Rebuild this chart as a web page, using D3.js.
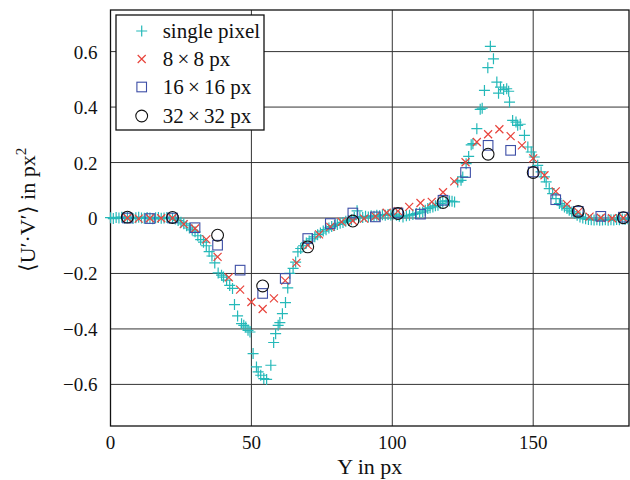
<!DOCTYPE html>
<html lang="en">
<head>
    <meta charset="UTF-8">
    <title>U'V' profile</title>
    <script src="https://cdn.jsdelivr.net/npm/d3@7/dist/d3.min.js"></script>
    <style>
        body {
            margin: 0;
            background-color: #ffffff;
        }
        svg text {
            font-family: "Liberation Serif", "Times New Roman", serif;
            fill: #111111;
        }
        .grid line {
            stroke: #333333;
            stroke-width: 1px;
        }
    </style>
</head>
<body>
<div id="chart"></div>
<script>
    var WIDTH = 630;
    var HEIGHT = 480;
    var PLOT = {left: 110.5, right: 629, top: 10, bottom: 426};
    var SERIF = "Liberation Serif";

    var X_DOMAIN = [0, 184];
    var Y_DOMAIN = [-0.75, 0.75];
    var X_TICKS = [0, 50, 100, 150];
    var Y_TICKS = [-0.6, -0.4, -0.2, 0, 0.2, 0.4, 0.6];

    var SERIES_LABELS = ["single pixel", "8\u2009\u00d7\u20098 px", "16\u2009\u00d7\u200916 px", "32\u2009\u00d7\u200932 px"];

    // single pixel: [Y, <U'V'>]
    var pixelPoints = [
        [0, 0.001], [1, -0.002], [2, 0.002], [3, 0.000], [4, 0.003], [5, -0.001],
        [6, 0.002], [7, 0.000], [8, -0.002], [9, 0.001], [10, 0.003], [11, 0.000],
        [12, -0.001], [13, 0.002], [14, 0.000], [15, -0.003], [16, 0.001], [17, 0.002],
        [18, -0.001], [19, 0.000], [20, 0.002], [21, -0.002], [22, -0.001], [23, -0.004],
        [24, -0.009], [25, -0.015], [26, -0.021], [27, -0.028], [28, -0.036], [29, -0.043],
        [30, -0.050], [31, -0.064], [32, -0.078], [33, -0.087], [34, -0.100], [35, -0.121],
        [36, -0.137], [37, -0.162], [38.2, -0.198], [39.4, -0.206], [40.1, -0.213], [41.2, -0.224],
        [42.3, -0.243], [43.3, -0.254], [44.0, -0.312], [45.1, -0.353], [46.5, -0.381], [47.3, -0.387],
        [48.0, -0.393], [48.8, -0.405], [49.5, -0.411], [50.6, -0.489], [51.8, -0.537], [52.4, -0.555],
        [53.3, -0.567], [54.4, -0.579], [55.4, -0.582], [56.9, -0.531], [57.9, -0.449], [58.6, -0.417],
        [59.5, -0.387], [60.1, -0.377], [61.0, -0.345], [62.1, -0.305], [62.9, -0.252], [63.6, -0.200],
        [64.8, -0.182], [65.7, -0.159], [66.5, -0.122], [67.5, -0.110], [68.5, -0.100], [69.5, -0.090],
        [70.5, -0.083], [71.5, -0.075], [72.5, -0.068], [73.5, -0.060], [74.5, -0.054], [75.5, -0.047],
        [76.5, -0.042], [77.5, -0.036], [78.5, -0.031], [79.5, -0.027], [80.5, -0.023], [81.5, -0.019],
        [82.5, -0.016], [83.5, -0.012], [84.5, -0.009], [85.5, -0.006], [86.5, 0.003], [87.5, 0.026],
        [88.5, 0.004], [89.5, 0.002], [90.5, 0.006], [91.5, 0.004], [92.5, 0.008], [93.5, 0.006],
        [94.5, 0.010], [95.5, 0.008], [96.5, 0.012], [97.5, 0.010], [98.5, 0.013], [99.5, 0.011],
        [100.5, 0.014], [101.5, 0.010], [102.5, 0.006], [103.8, 0.004], [105.0, 0.008], [106.1, 0.010],
        [107.3, 0.013], [108.5, 0.016], [109.7, 0.019], [110.8, 0.022], [111.7, 0.028], [112.6, 0.034],
        [113.4, 0.037], [114.4, 0.040], [115.3, 0.044], [116.2, 0.046], [117.0, 0.052], [117.9, 0.058],
        [119.1, 0.062], [120.3, 0.061], [121.2, 0.060], [122.1, 0.058], [123.2, 0.130], [124.4, 0.136],
        [125.0, 0.148], [126.2, 0.196], [127.1, 0.222], [128.0, 0.264], [128.6, 0.268], [130.0, 0.322],
        [131.2, 0.392], [131.9, 0.396], [132.7, 0.460], [133.9, 0.542], [134.8, 0.619], [135.9, 0.574],
        [137.1, 0.490], [137.7, 0.450], [138.4, 0.472], [139.5, 0.463], [140.6, 0.466], [141.3, 0.457],
        [141.6, 0.418], [142.7, 0.352], [143.9, 0.346], [144.5, 0.334], [145.4, 0.338], [146.9, 0.298],
        [148.1, 0.256], [149.3, 0.238], [150.4, 0.220], [151.6, 0.190], [152.8, 0.166], [154.0, 0.148],
        [154.6, 0.130], [155.7, 0.106], [156.9, 0.088], [158.1, 0.070], [159.3, 0.052], [160.2, 0.046],
        [161.1, 0.040], [162.0, 0.034], [162.8, 0.028], [163.7, 0.022], [164.6, 0.016], [165.6, 0.010],
        [166.6, 0.004], [167.6, 0.000], [168.6, -0.003], [169.6, -0.005], [170.6, -0.006], [171.6, -0.007],
        [172.6, -0.006], [173.6, -0.008], [174.6, -0.007], [175.6, -0.006], [176.6, -0.008], [177.6, -0.006],
        [178.6, -0.007], [179.6, -0.005], [180.6, -0.006], [181.6, -0.004], [182.6, -0.005], [183.6, -0.003]
    ];

    // 8 x 8 px windows
    var win8X = [6, 10, 14, 18, 22, 26, 30, 34, 38, 42, 46, 50, 54, 58, 62, 66, 70, 74, 78, 82, 86, 90, 94,
        98, 102, 106, 110, 114, 118, 122, 126, 130, 134, 138, 142, 146, 150, 154, 158, 162, 166, 170, 174, 178, 182];
    var win8Y = [0.000, -0.002, -0.001, -0.001, 0.000, -0.022, -0.038, -0.077, -0.140, -0.214, -0.258, -0.303,
        -0.328, -0.290, -0.226, -0.162, -0.098, -0.059, -0.032, -0.014, -0.010, -0.002, 0.006, 0.019, 0.025,
        0.040, 0.054, 0.058, 0.093, 0.132, 0.201, 0.274, 0.302, 0.320, 0.295, 0.262, 0.215, 0.154, 0.096,
        0.050, 0.022, 0.005, 0.001, -0.001, 0.000];

    // 16 x 16 px windows
    var win16X = [6, 14, 22, 30, 38, 46, 54, 62, 70, 78, 86, 94, 102, 110, 118, 126, 134, 142, 150, 158, 166, 174, 182];
    var win16Y = [0.000, -0.002, 0.000, -0.035, -0.098, -0.188, -0.272, -0.218, -0.074, -0.020, 0.018, 0.004,
        0.018, 0.014, 0.064, 0.164, 0.262, 0.244, 0.166, 0.066, 0.024, 0.006, 0.003];

    // 32 x 32 px windows
    var win32X = [6, 22, 38, 54, 70, 86, 102, 118, 134, 150, 166, 182];
    var win32Y = [0.003, 0.002, -0.062, -0.245, -0.104, -0.011, 0.016, 0.056, 0.230, 0.164, 0.024, 0.001];

    var PLUS_COLOR = "#25b9b9";
    var CROSS_COLOR = "#e8433b";
    var SQUARE_COLOR = "#3d4ea6";
    var CIRCLE_COLOR = "#111111";

    var svg = d3.select("#chart").append("svg")
        .attr("width", WIDTH)
        .attr("height", HEIGHT)
        .attr("font-family", SERIF);

    var x = d3.scaleLinear().domain(X_DOMAIN).range([PLOT.left, PLOT.right]);
    var y = d3.scaleLinear().domain(Y_DOMAIN).range([PLOT.bottom, PLOT.top]);

    var minusFmt = d3.format(".1f");
    function yFmt(d) { return d === 0 ? "0" : minusFmt(d); }

    // grid
    svg.append("g")
        .attr("class", "grid")
        .selectAll("line.v")
        .data(X_TICKS.filter(function(d) { return d > 0; }))
        .enter().append("line")
        .attr("x1", function(d) { return x(d); })
        .attr("x2", function(d) { return x(d); })
        .attr("y1", PLOT.top)
        .attr("y2", PLOT.bottom);

    svg.append("g")
        .attr("class", "grid")
        .selectAll("line.h")
        .data(Y_TICKS)
        .enter().append("line")
        .attr("x1", PLOT.left)
        .attr("x2", PLOT.right)
        .attr("y1", function(d) { return y(d); })
        .attr("y2", function(d) { return y(d); });

    // tick labels
    svg.append("g").selectAll("text")
        .data(X_TICKS)
        .enter().append("text")
        .attr("x", function(d) { return x(d); })
        .attr("y", PLOT.bottom + 22.5)
        .attr("text-anchor", "middle")
        .attr("font-family", SERIF)
        .style("font-size", "19px")
        .text(d3.format("d"));

    svg.append("g").selectAll("text")
        .data(Y_TICKS)
        .enter().append("text")
        .attr("x", PLOT.left - 13)
        .attr("y", function(d) { return y(d) + 7; })
        .attr("text-anchor", "end")
        .attr("font-family", SERIF)
        .style("font-size", "19px")
        .text(yFmt);

    svg.append("rect")
        .attr("x", PLOT.left)
        .attr("y", PLOT.top)
        .attr("width", PLOT.right - PLOT.left)
        .attr("height", PLOT.bottom - PLOT.top)
        .attr("fill", "none")
        .attr("stroke", "#111")
        .attr("stroke-width", 1.3);

    // markers
    var plusPath = "M-5.5,0H5.5M0,-5.5V5.5";
    var crossPath = "M-4,-4L4,4M-4,4L4,-4";
    var SQ = 9.6;
    var CR = 5.9;

    var plot = svg.append("g");

    plot.selectAll("path.plus")
        .data(pixelPoints)
        .enter().append("path")
        .attr("class", "plus")
        .attr("d", plusPath)
        .attr("transform", function(d) { return "translate(" + x(d[0]) + "," + y(d[1]) + ")"; })
        .attr("stroke", PLUS_COLOR)
        .attr("stroke-width", 1.2)
        .attr("fill", "none");

    plot.selectAll("path.cross")
        .data(d3.zip(win8X, win8Y))
        .enter().append("path")
        .attr("class", "cross")
        .attr("d", crossPath)
        .attr("transform", function(d) { return "translate(" + x(d[0]) + "," + y(d[1]) + ")"; })
        .attr("stroke", CROSS_COLOR)
        .attr("stroke-width", 1.2)
        .attr("fill", "none");

    plot.selectAll("rect.sq")
        .data(d3.zip(win16X, win16Y))
        .enter().append("rect")
        .attr("class", "sq")
        .attr("x", function(d) { return x(d[0]) - SQ / 2; })
        .attr("y", function(d) { return y(d[1]) - SQ / 2; })
        .attr("width", SQ)
        .attr("height", SQ)
        .attr("stroke", SQUARE_COLOR)
        .attr("stroke-width", 1.1)
        .attr("fill", "none");

    plot.selectAll("circle.c")
        .data(d3.zip(win32X, win32Y))
        .enter().append("circle")
        .attr("class", "c")
        .attr("cx", function(d) { return x(d[0]); })
        .attr("cy", function(d) { return y(d[1]); })
        .attr("r", CR)
        .attr("stroke", CIRCLE_COLOR)
        .attr("stroke-width", 1.1)
        .attr("fill", "none");

    // axis titles
    svg.append("text")
        .attr("x", (PLOT.left + PLOT.right) / 2)
        .attr("y", 474)
        .attr("text-anchor", "middle")
        .style("font-size", "22px")
        .text("Y in px");

    var yTitle = svg.append("text")
        .attr("transform", "translate(35,210) rotate(-90)")
        .attr("text-anchor", "middle")
        .style("font-size", "22px");
    yTitle.append("tspan").text("\u27e8U\u2032\u00b7V\u2032\u27e9 in px");
    yTitle.append("tspan").attr("dy", -9).style("font-size", "15px").text("2");

    // legend
    var legend = svg.append("g").attr("transform", "translate(116,15)");
    legend.append("rect")
        .attr("width", 148)
        .attr("height", 115)
        .attr("fill", "#fff")
        .attr("stroke", "#111")
        .attr("stroke-width", 1.3);

    var rowY = [16, 44, 72, 101];
    var rows = legend.selectAll("g.row")
        .data(SERIES_LABELS)
        .enter().append("g")
        .attr("transform", function(d, i) { return "translate(25.7," + rowY[i] + ")"; });

    rows.append("text")
        .attr("x", 21)
        .attr("y", 7)
        .style("font-size", "21px")
        .text(function(d) { return d; });

    rows.filter(function(d, i) { return i === 0; }).append("path")
        .attr("d", plusPath).attr("stroke", PLUS_COLOR).attr("stroke-width", 1.2).attr("fill", "none");
    rows.filter(function(d, i) { return i === 1; }).append("path")
        .attr("d", crossPath).attr("stroke", CROSS_COLOR).attr("stroke-width", 1.2).attr("fill", "none");
    rows.filter(function(d, i) { return i === 2; }).append("rect")
        .attr("x", -SQ / 2).attr("y", -SQ / 2).attr("width", SQ).attr("height", SQ)
        .attr("stroke", SQUARE_COLOR).attr("stroke-width", 1.1).attr("fill", "none");
    rows.filter(function(d, i) { return i === 3; }).append("circle")
        .attr("r", CR).attr("stroke", CIRCLE_COLOR).attr("stroke-width", 1.1).attr("fill", "none");
</script>
</body>
</html>
